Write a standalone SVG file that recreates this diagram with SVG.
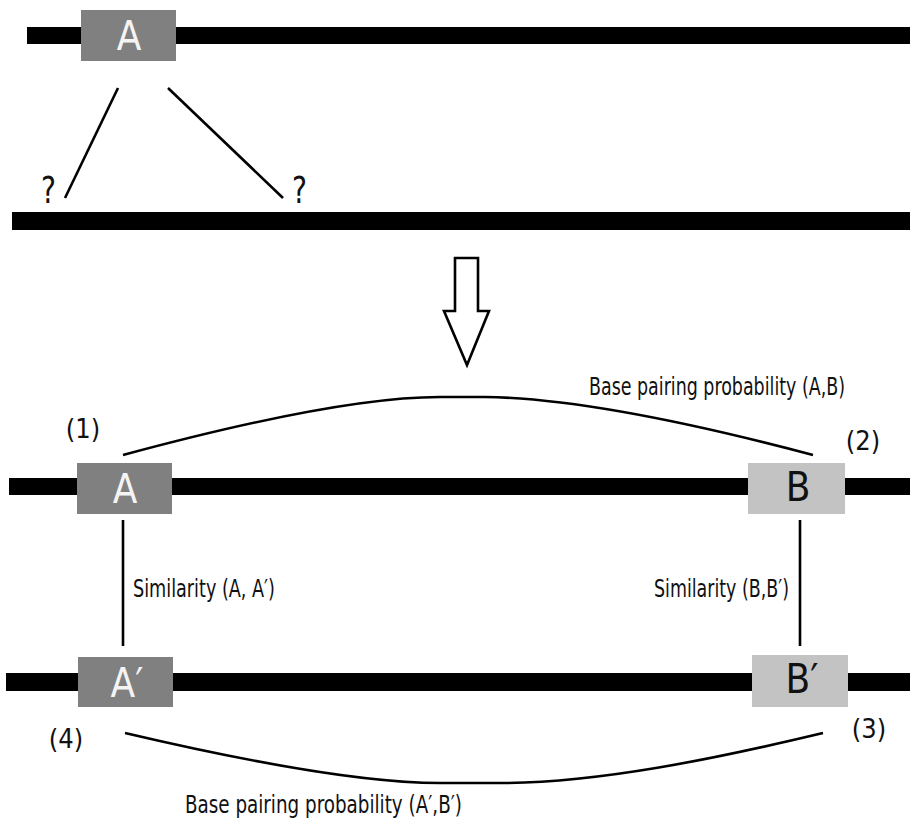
<svg xmlns="http://www.w3.org/2000/svg" width="910" height="823" viewBox="0 0 910 823">
  <style>
    .bar { fill: #000; }
    .dark { fill: #808080; }
    .light { fill: #c3c3c3; }
    .txt { font-family: "Liberation Sans Narrow", "DejaVu Sans Condensed", "Liberation Sans", sans-serif; fill: #111; }
    .big { font-size: 40px; text-anchor: middle; }
    .lbl { font-size: 25px; }
    .num { font-size: 27px; text-anchor: middle; }
    .q { font-size: 38px; }
    .onDark { fill: #f4f4f4; }
    .link { fill: none; stroke: #000; stroke-width: 2.6; stroke-linecap: butt; }
  </style>

  <!-- sequence backbones -->
  <g id="backbones">
    <rect class="bar" x="27" y="27" width="883" height="17"/>
    <rect class="bar" x="12" y="212" width="898" height="18"/>
    <rect class="bar" x="9" y="478" width="901" height="17"/>
    <rect class="bar" x="6" y="673" width="904" height="18"/>
  </g>

  <!-- top: query region -->
  <g id="node-top-A">
    <rect class="dark" x="81" y="10" width="95" height="51"/>
    <text class="txt big onDark" x="129" y="50">A</text>
  </g>

  <g id="unknown-left">
    <text class="txt q" x="41" y="203" textLength="15" lengthAdjust="spacingAndGlyphs">?</text>
  </g>
  <g id="unknown-right">
    <text class="txt q" x="292" y="203" textLength="15" lengthAdjust="spacingAndGlyphs">?</text>
  </g>

  <!-- transition arrow -->
  <g id="arrow-down">
    <polygon points="455,258 478,258 478,311 489,311 467,365 444,311 455,311" fill="#fff" stroke="#000" stroke-width="2.6" stroke-linejoin="miter"/>
  </g>

  <!-- lower panel nodes -->
  <g id="node-A">
    <rect class="dark" x="77" y="463" width="95" height="51"/>
    <text class="txt big onDark" x="125" y="503">A</text>
  </g>
  <g id="node-B">
    <rect class="light" x="748" y="463" width="97" height="51"/>
    <text class="txt big" x="798" y="501">B</text>
  </g>
  <g id="node-A-prime">
    <rect class="dark" x="78" y="657" width="95" height="50"/>
    <text class="txt big onDark" x="127" y="697">A′</text>
  </g>
  <g id="node-B-prime">
    <rect class="light" x="752" y="655" width="96" height="52"/>
    <text class="txt big" x="802" y="693">B′</text>
  </g>

  <!-- connectors -->
  <g id="connectors">
    <line class="link" x1="118" y1="88" x2="65" y2="198"/>
    <line class="link" x1="168" y1="88" x2="283" y2="198"/>
    <path class="link" d="M123,455 C260,418 370,397 440,397 L485,397 C575,398 700,425 813,455"/>
    <line class="link" x1="123" y1="520" x2="123" y2="646"/>
    <line class="link" x1="800" y1="520" x2="800" y2="646"/>
    <path class="link" d="M125,733 C240,760 360,783 440,783 L506,783 C600,782 710,760 823,733"/>
  </g>

  <!-- labels -->
  <g id="labels">
    <text class="txt lbl" x="589" y="395" textLength="256" lengthAdjust="spacingAndGlyphs">Base pairing probability (A,B)</text>
    <text class="txt lbl" x="133" y="597" textLength="142" lengthAdjust="spacingAndGlyphs">Similarity (A, A′)</text>
    <text class="txt lbl" x="654" y="597" textLength="135" lengthAdjust="spacingAndGlyphs">Similarity (B,B′)</text>
    <text class="txt lbl" x="185" y="813" textLength="277" lengthAdjust="spacingAndGlyphs">Base pairing probability (A′,B′)</text>
    <text class="txt num" x="83" y="438">(1)</text>
    <text class="txt num" x="863" y="450">(2)</text>
    <text class="txt num" x="869" y="738">(3)</text>
    <text class="txt num" x="66" y="748">(4)</text>
  </g>
</svg>
